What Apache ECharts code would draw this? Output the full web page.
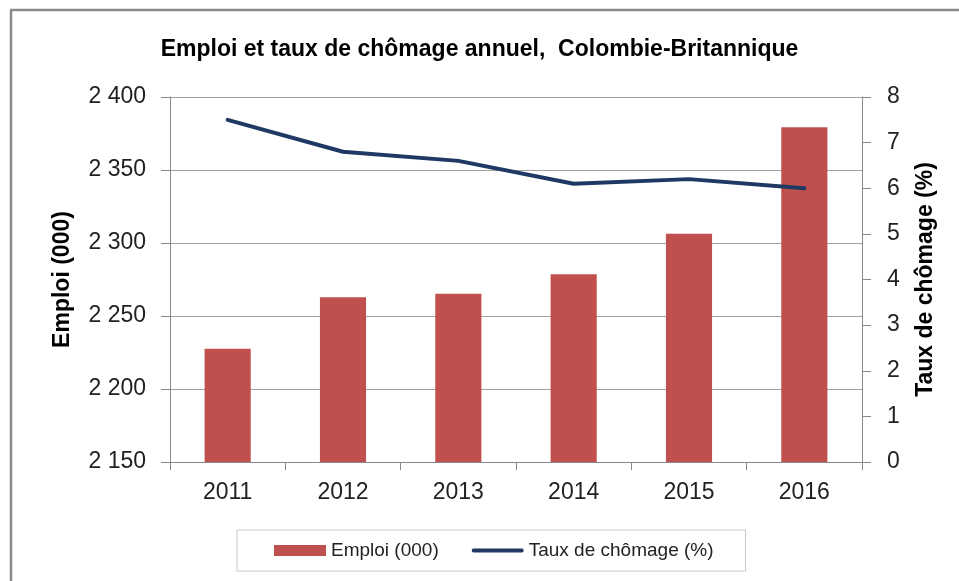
<!DOCTYPE html>
<html>
<head>
<meta charset="utf-8">
<script src="https://cdn.jsdelivr.net/npm/echarts@6/dist/echarts.min.js"></script>
<style>
html,body{margin:0;padding:0;background:#fff;}
#chart{width:959px;height:581px;}
</style>
</head>
<body>
<div id="chart"></div>
<script>
const years = ['2011', '2012', '2013', '2014', '2015', '2016'];
const emploi = [2227.5, 2262.8, 2265.3, 2278.6, 2306.4, 2379.2];
const chomage = [7.5, 6.8, 6.6, 6.1, 6.2, 6.0];
const titleText = 'Emploi et taux de chômage annuel,  Colombie-Britannique';
const leftName = 'Emploi (000)';
const rightName = 'Taux de chômage (%)';
const seriesNames = ['Emploi (000)', 'Taux de chômage (%)'];

const FONT = '"Liberation Sans", Arial, sans-serif';
const chart = echarts.init(document.getElementById('chart'));
const fmtThousands = v => String(v).replace(/\B(?=(\d{3})+(?!\d))/g, ' ');

chart.setOption({
  animation: false,
  backgroundColor: '#fff',
  textStyle: { fontFamily: FONT },
  title: {
    text: titleText,
    left: 'center',
    top: 33,
    textStyle: { fontFamily: FONT, fontSize: 23, fontWeight: 'bold', color: '#000' }
  },
  graphic: [
    { type: 'line', shape: { x1: 10, y1: 10, x2: 959, y2: 10 }, style: { stroke: '#8a8a8a', lineWidth: 2.5 } },
    { type: 'line', shape: { x1: 11, y1: 10, x2: 11, y2: 581 }, style: { stroke: '#8a8a8a', lineWidth: 2.5 } }
  ],
  legend: {
    left: 237,
    top: 530,
    padding: [11, 32, 11, 37],
    itemGap: 33,
    itemWidth: 52,
    itemHeight: 11,
    borderColor: '#c8c8c8',
    borderWidth: 1,
    textStyle: { fontFamily: FONT, fontSize: 19, color: '#222' },
    data: [
      { name: seriesNames[0], icon: 'rect' },
      { name: seriesNames[1], icon: 'path://M2,0 L52,0 A2,2 0 0 1 52,4 L2,4 A2,2 0 0 1 2,0 Z' }
    ]
  },
  grid: { left: 170, right: 97, top: 97, bottom: 119 },
  xAxis: {
    type: 'category',
    data: years,
    boundaryGap: true,
    axisLine: { lineStyle: { color: '#888', width: 1 } },
    axisTick: { show: true, length: 8, inside: false, lineStyle: { color: '#888' } },
    axisLabel: { fontFamily: FONT, fontSize: 23, color: '#222', margin: 19 }
  },
  yAxis: [
    {
      type: 'value',
      min: 2150,
      max: 2400,
      interval: 50,
      name: leftName,
      nameLocation: 'middle',
      nameRotate: 90,
      nameGap: 96,
      nameTextStyle: { fontFamily: FONT, fontSize: 23, fontWeight: 'bold', color: '#000' },
      axisLine: { show: true, lineStyle: { color: '#888', width: 1 } },
      axisTick: { show: true, length: 9, lineStyle: { color: '#888' } },
      axisLabel: { fontFamily: FONT, fontSize: 23, color: '#222', margin: 24, formatter: fmtThousands },
      splitLine: { show: true, lineStyle: { color: '#a0a0a0', width: 1 } }
    },
    {
      type: 'value',
      min: 0,
      max: 8,
      interval: 1,
      position: 'right',
      name: rightName,
      nameLocation: 'middle',
      nameRotate: 90,
      nameGap: 52,
      nameTextStyle: { fontFamily: FONT, fontSize: 23, fontWeight: 'bold', color: '#000' },
      axisLine: { show: true, lineStyle: { color: '#888', width: 1 } },
      axisTick: { show: true, length: 9, lineStyle: { color: '#888' } },
      axisLabel: { fontFamily: FONT, fontSize: 23, color: '#222', margin: 25 },
      splitLine: { show: false }
    }
  ],
  series: [
    {
      name: seriesNames[0],
      type: 'bar',
      yAxisIndex: 0,
      data: emploi,
      barWidth: '40%',
      itemStyle: { color: '#C0504D' }
    },
    {
      name: seriesNames[1],
      type: 'line',
      yAxisIndex: 1,
      data: chomage,
      symbol: 'none',
      lineStyle: { color: '#1F3864', width: 4, cap: 'round', join: 'round' },
      itemStyle: { color: '#1F3864' }
    }
  ]
});
</script>
</body>
</html>
